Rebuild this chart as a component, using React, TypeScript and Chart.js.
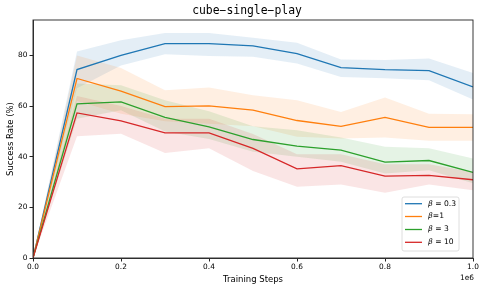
import React, { useEffect, useRef } from "react";
import { Chart, registerables } from "chart.js";

Chart.register(...registerables);

const steps = [0, 100000, 200000, 300000, 400000, 500000, 600000, 700000, 800000, 900000, 1000000];

const blueMean = [0, 74.4, 80.0, 84.7, 84.7, 83.8, 80.7, 75.2, 74.4, 74.0, 67.6];
const blueUpper = [0, 81.6, 86.0, 88.9, 88.9, 87.0, 85.0, 78.4, 78.2, 78.8, 73.1];
const blueLower = [0, 67.0, 76.0, 80.5, 79.8, 79.5, 76.8, 71.5, 71.0, 70.2, 62.6];

const orangeMean = [0, 70.9, 65.9, 59.8, 60.1, 58.4, 54.3, 52.0, 55.5, 51.6, 51.6];
const orangeUpper = [0, 80.0, 75.0, 66.3, 67.3, 64.3, 62.3, 57.7, 63.4, 57.0, 56.8];
const orangeLower = [0, 62.0, 57.0, 54.0, 53.0, 52.0, 47.9, 47.2, 47.6, 46.3, 46.3];

const greenMean = [0, 60.9, 61.7, 55.5, 51.8, 46.8, 44.2, 42.6, 37.9, 38.5, 33.8];
const greenUpper = [0, 68.9, 68.2, 62.3, 58.0, 52.0, 50.5, 47.6, 43.9, 43.3, 39.3];
const greenLower = [0, 55.0, 58.4, 50.0, 47.0, 42.0, 40.0, 38.0, 33.4, 34.7, 29.5];

const redMean = [0, 57.3, 54.2, 49.4, 49.4, 43.3, 35.2, 36.5, 32.3, 32.6, 30.9];
const redUpper = [0, 64.0, 60.0, 55.0, 55.0, 49.0, 41.0, 41.0, 37.0, 37.0, 34.0];
const redLower = [0, 48.1, 49.1, 41.5, 43.3, 34.4, 28.1, 29.0, 25.8, 29.0, 26.8];

const seriesNames = ["0.3", "1", "3", "10"];
const seriesColors = ["#1f77b4", "#ff7f0e", "#2ca02c", "#d62728"];
const bandColors = [
  "rgba(31,119,180,0.12)",
  "rgba(255,127,14,0.12)",
  "rgba(44,160,44,0.12)",
  "rgba(214,39,40,0.12)",
];

const titleText = "cube\u2212single\u2212play";
const xTitle = "Training Steps";
const yTitle = "Success Rate (%)";

export default function App() {
  const ref = useRef<HTMLCanvasElement | null>(null);

  useEffect(() => {
    document.body.style.margin = "0";
    const canvas = ref.current;
    if (!canvas) return;

    const means = [blueMean, orangeMean, greenMean, redMean];
    const uppers = [blueUpper, orangeUpper, greenUpper, redUpper];
    const lowers = [blueLower, orangeLower, greenLower, redLower];

    const datasets: any[] = [];
    // bands first
    for (let i = 0; i < 4; i++) {
      datasets.push({
        data: steps.map((x, k) => ({ x, y: uppers[i][k] })),
        borderWidth: 0,
        pointRadius: 0,
        fill: false,
        order: 20 - i,
        borderColor: "rgba(0,0,0,0)",
      });
      datasets.push({
        data: steps.map((x, k) => ({ x, y: lowers[i][k] })),
        borderWidth: 0,
        pointRadius: 0,
        fill: "-1",
        backgroundColor: bandColors[i],
        order: 20 - i,
        borderColor: "rgba(0,0,0,0)",
      });
    }
    for (let i = 0; i < 4; i++) {
      datasets.push({
        data: steps.map((x, k) => ({ x, y: means[i][k] })),
        borderColor: seriesColors[i],
        borderWidth: 1.3,
        pointRadius: 0,
        fill: false,
        order: 10 - i,
      });
    }

    const deco = {
      id: "deco",
      afterDraw(chart: any) {
        const { ctx, chartArea } = chart;
        const { left, right, top, bottom } = chartArea;
        ctx.save();
        // frame
        ctx.strokeStyle = "#222";
        ctx.lineWidth = 0.9;
        ctx.strokeRect(left, top, right - left, bottom - top);
        // title
        ctx.fillStyle = "#000";
        ctx.font = "11.4px 'DejaVu Sans Mono'";
        ctx.textAlign = "center";
        ctx.textBaseline = "middle";
        ctx.fillText(titleText, 247, 11);
        // 1e6
        ctx.font = "7.4px 'DejaVu Sans'";
        ctx.fillText("1e6", 467, 278);
        // legend
        const lx = 402, ly = 197, lw = 57, lh = 54;
        ctx.fillStyle = "rgba(255,255,255,0.85)";
        ctx.strokeStyle = "#d6d6d6";
        ctx.lineWidth = 0.8;
        ctx.beginPath();
        const r = 2;
        ctx.moveTo(lx + r, ly);
        ctx.arcTo(lx + lw, ly, lx + lw, ly + lh, r);
        ctx.arcTo(lx + lw, ly + lh, lx, ly + lh, r);
        ctx.arcTo(lx, ly + lh, lx, ly, r);
        ctx.arcTo(lx, ly, lx + lw, ly, r);
        ctx.closePath();
        ctx.fill();
        ctx.stroke();
        const rows = [203.7, 216.5, 229.5, 242.3];
        for (let i = 0; i < 4; i++) {
          const y = rows[i];
          ctx.strokeStyle = seriesColors[i];
          ctx.lineWidth = 1.3;
          ctx.beginPath();
          ctx.moveTo(405, y);
          ctx.lineTo(422, y);
          ctx.stroke();
          ctx.fillStyle = "#000";
          ctx.textAlign = "left";
          ctx.textBaseline = "middle";
          ctx.font = "italic 7.6px 'DejaVu Sans'";
          ctx.fillText("\u03b2", 428, y);
          const bw = ctx.measureText("\u03b2").width;
          ctx.font = "7.6px 'DejaVu Sans'";
          const rest = seriesNames[i] === "1" ? "=" + seriesNames[i] : " = " + seriesNames[i];
          ctx.fillText(rest, 428 + bw, y);
        }
        ctx.restore();
      },
    };

    const chart = new Chart(canvas, {
      type: "line",
      data: { datasets },
      options: {
        animation: false,
        responsive: false,
        layout: { padding: { top: 20, right: 13, left: 0, bottom: 0 } },
        plugins: {
          legend: { display: false },
          tooltip: { enabled: false },
          title: { display: false },
          filler: { drawTime: "beforeDatasetsDraw" },
        } as any,
        scales: {
          x: {
            type: "linear",
            min: 0,
            max: 1000000,
            afterFit: (s: any) => {
              s.height = 34;
            },
            ticks: {
              stepSize: 200000,
              includeBounds: false,
              maxRotation: 0,
              color: "#000",
              padding: 1,
              font: { family: "'DejaVu Sans'", size: 7.4 },
              callback: (v: any) => (Number(v) / 1e6).toFixed(1),
            },
            grid: {
              drawOnChartArea: false,
              drawTicks: true,
              tickLength: 3.5,
              color: "#222",
            },
            border: { display: true, color: "#222", width: 0.9 },
            title: {
              display: true,
              text: xTitle,
              color: "#000",
              font: { family: "'DejaVu Sans'", size: 8.5 },
              padding: { top: 0, bottom: 7 },
            },
          },
          y: {
            min: 0,
            max: 94,
            afterFit: (s: any) => {
              s.width = 33;
            },
            ticks: {
              stepSize: 20,
              includeBounds: false,
              color: "#000",
              padding: 2,
              font: { family: "'DejaVu Sans'", size: 7.4 },
            },
            grid: {
              drawOnChartArea: false,
              drawTicks: true,
              tickLength: 3.5,
              color: "#222",
            },
            border: { display: true, color: "#222", width: 0.9 },
            title: {
              display: true,
              text: yTitle,
              color: "#000",
              font: { family: "'DejaVu Sans'", size: 8.5 },
              padding: { top: 6, bottom: 0 },
            },
          },
        },
      } as any,
      plugins: [deco],
    });

    return () => chart.destroy();
  }, []);

  return (
    <div style={{ width: 486, height: 292, position: "relative" }}>
      <canvas ref={ref} width={486} height={292} style={{ display: "block" }} />
    </div>
  );
}
